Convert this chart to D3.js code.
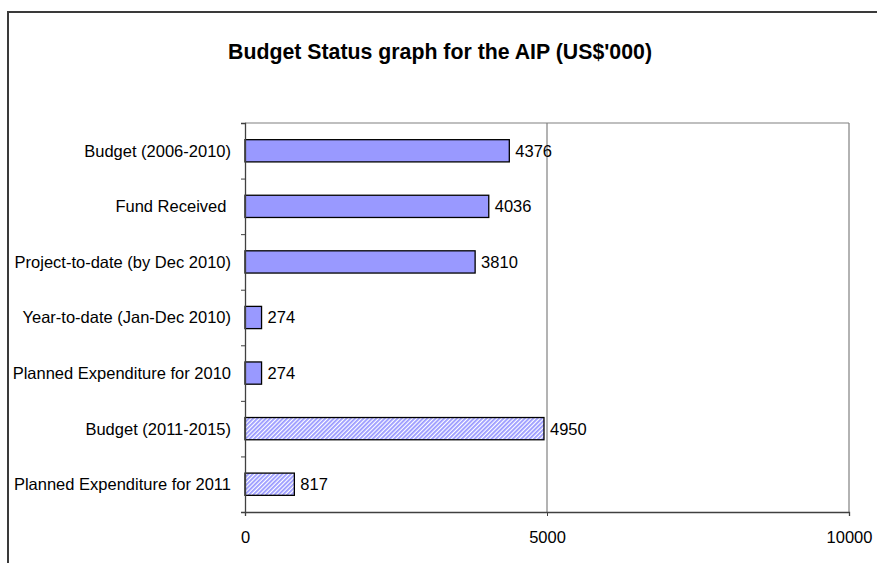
<!DOCTYPE html>
<html>
<head>
<meta charset="utf-8">
<script src="https://cdn.jsdelivr.net/npm/d3@7/dist/d3.min.js"></script>
<style>
  html, body { margin: 0; padding: 0; background: #fff; }
  svg { display: block; font-family: "Liberation Sans", Arial, sans-serif; }
</style>
</head>
<body>
<svg id="chart" width="877" height="563"></svg>
<script>
// Budget status figures (US$'000)
const categories = [
  "Budget (2006-2010)",
  "Fund Received ",
  "Project-to-date (by Dec 2010)",
  "Year-to-date (Jan-Dec 2010)",
  "Planned Expenditure for 2010",
  "Budget (2011-2015)",
  "Planned Expenditure for 2011"
];
const values = [4376, 4036, 3810, 274, 274, 4950, 817];
// Forward-looking rows are drawn with a hatched fill
const projected = [false, false, false, false, false, true, true];
const xTicks = [0, 5000, 10000];
const titleText = "Budget Status graph for the AIP (US$'000)";

const svg = d3.select("#chart");
const W = 877, H = 563;
const plot = { left: 245, right: 849, top: 123, bottom: 512 };
const labelSize = 16.5;

// Hatch pattern for projected rows
const defs = svg.append("defs");
const pat = defs.append("pattern")
  .attr("id", "hatch")
  .attr("patternUnits", "userSpaceOnUse")
  .attr("width", 3).attr("height", 3)
  .attr("patternTransform", "rotate(45)");
pat.append("rect").attr("width", 3).attr("height", 3).attr("fill", "#ffffff");
pat.append("rect").attr("width", 1.8).attr("height", 3).attr("fill", "#9999ff");

// Outer frame
svg.append("rect")
  .attr("x", 8).attr("y", 12)
  .attr("width", W + 20).attr("height", H + 20)
  .attr("fill", "none")
  .attr("stroke", "#3a3a3a")
  .attr("stroke-width", 2);

// Title
svg.append("text")
  .attr("x", 440).attr("y", 59)
  .attr("text-anchor", "middle")
  .attr("font-weight", "bold")
  .attr("font-size", 21.3)
  .attr("fill", "#000")
  .text(titleText);

const x = d3.scaleLinear().domain([0, 10000]).range([plot.left, plot.right]);
const y = d3.scaleBand()
  .domain(categories)
  .range([plot.top, plot.bottom])
  .paddingInner(0.6)
  .paddingOuter(0.3);

// Gridlines and plot-area border
const grid = svg.append("g");
grid.selectAll("line.v")
  .data(xTicks.slice(1))
  .join("line")
  .attr("x1", d => x(d)).attr("x2", d => x(d))
  .attr("y1", plot.top).attr("y2", plot.bottom)
  .attr("stroke", "#808080").attr("stroke-width", 1.2);
grid.append("line")
  .attr("x1", plot.left).attr("x2", plot.right)
  .attr("y1", plot.top).attr("y2", plot.top)
  .attr("stroke", "#808080").attr("stroke-width", 1.2);

// Bars
svg.append("g").selectAll("rect")
  .data(categories)
  .join("rect")
  .attr("x", x(0))
  .attr("y", d => y(d))
  .attr("width", (d, i) => x(values[i]) - x(0))
  .attr("height", y.bandwidth())
  .attr("fill", (d, i) => projected[i] ? "url(#hatch)" : "#9999ff")
  .attr("stroke", "#000")
  .attr("stroke-width", 1.3);

// Value labels
svg.append("g").selectAll("text")
  .data(categories)
  .join("text")
  .attr("x", (d, i) => x(values[i]) + 6)
  .attr("y", d => y(d) + y.bandwidth() / 2)
  .attr("dy", "0.36em")
  .attr("font-size", labelSize)
  .attr("fill", "#000")
  .text((d, i) => values[i]);

// Category axis: ticks on band boundaries
const yEdge = d3.scaleLinear().domain([0, categories.length]).range([plot.top, plot.bottom]);
const yAxis = svg.append("g")
  .attr("transform", `translate(${plot.left},0)`)
  .call(d3.axisLeft(yEdge)
    .tickValues(d3.range(categories.length + 1))
    .tickSize(4)
    .tickFormat(""));
yAxis.select(".domain").attr("stroke", "#404040").attr("stroke-width", 1.3);
yAxis.selectAll(".tick line").attr("stroke", "#404040");

svg.append("g").selectAll("text")
  .data(categories)
  .join("text")
  .attr("x", plot.left - 14)
  .attr("y", d => y(d) + y.bandwidth() / 2)
  .attr("dy", "0.36em")
  .attr("text-anchor", "end")
  .attr("font-size", labelSize)
  .attr("fill", "#000")
  .style("white-space", "pre")
  .text(d => d);

// Value axis
const xAxis = svg.append("g")
  .attr("transform", `translate(0,${plot.bottom})`)
  .call(d3.axisBottom(x).tickValues(xTicks).tickSize(4).tickFormat(d3.format("d")));
xAxis.select(".domain").attr("stroke", "#404040").attr("stroke-width", 1.3);
xAxis.selectAll(".tick line").attr("stroke", "#404040");
xAxis.selectAll(".tick text")
  .attr("y", 31).attr("dy", 0)
  .attr("font-size", labelSize)
  .attr("font-family", "Liberation Sans, Arial, sans-serif")
  .attr("fill", "#000");
</script>
</body>
</html>
